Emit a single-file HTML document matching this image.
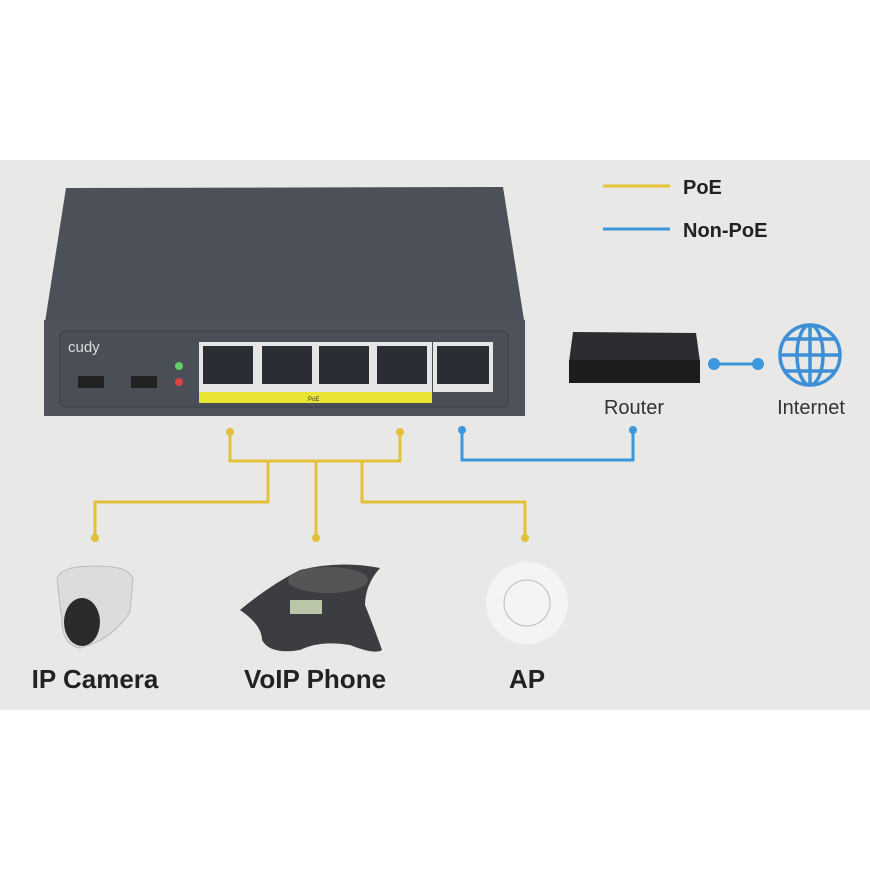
<!DOCTYPE html>
<html><head><style>body{margin:0;background:#fff}svg{display:block}</style></head><body>
<svg width="870" height="870" viewBox="0 0 870 870" xmlns="http://www.w3.org/2000/svg" font-family="Liberation Sans, sans-serif">
<rect width="870" height="870" fill="#fff"/>
<rect x="0" y="160" width="870" height="550" fill="#e8e8e6"/>
<line x1="603" y1="186" x2="670" y2="186" stroke="#e5c33a" stroke-width="3"/>
<text x="683" y="194" font-size="20" font-weight="bold" fill="#222">PoE</text>
<line x1="603" y1="229" x2="670" y2="229" stroke="#3d97dd" stroke-width="3"/>
<text x="683" y="237" font-size="20" font-weight="bold" fill="#222">Non-PoE</text>
<polygon points="66,188 503,187 524,320 45,322" fill="#4b5059"/>
<rect x="44" y="320" width="481" height="96" fill="#4e535b"/>
<rect x="60" y="331" width="448" height="76" rx="6" fill="#4a4f57" stroke="#3a3e45"/>
<text x="68" y="352" font-size="15" fill="#ddd">cudy</text>
<rect x="78" y="376" width="26" height="12" fill="#222"/>
<rect x="131" y="376" width="26" height="12" fill="#222"/>
<circle cx="179" cy="366" r="4" fill="#6c6"/>
<circle cx="179" cy="382" r="4" fill="#d44"/>
<rect x="199" y="342" width="233" height="50" fill="#e6e6e6"/>
<rect x="433" y="342" width="60" height="50" fill="#e6e6e6"/>
<g fill="#2a2d33">
<rect x="203" y="346" width="50" height="38"/><rect x="262" y="346" width="50" height="38"/><rect x="319" y="346" width="50" height="38"/><rect x="377" y="346" width="50" height="38"/><rect x="437" y="346" width="52" height="38"/>
</g>
<rect x="199" y="392" width="233" height="11" fill="#e7e532"/>
<text x="308" y="401" font-size="6" fill="#333">PoE</text>
<g stroke="#e3c03a" stroke-width="3" fill="none">
<polyline points="230,432 230,461 400,461 400,432"/>
<polyline points="268,461 268,502 95,502 95,538"/>
<polyline points="316,461 316,538"/>
<polyline points="362,461 362,502 525,502 525,538"/>
</g>
<g fill="#e3c03a"><circle cx="230" cy="432" r="4"/><circle cx="400" cy="432" r="4"/><circle cx="95" cy="538" r="4"/><circle cx="316" cy="538" r="4"/><circle cx="525" cy="538" r="4"/></g>
<polyline points="462,430 462,460 633,460 633,430" stroke="#3d97dd" stroke-width="3" fill="none"/>
<circle cx="462" cy="430" r="4" fill="#3d97dd"/><circle cx="633" cy="430" r="4" fill="#3d97dd"/>
<line x1="714" y1="364" x2="758" y2="364" stroke="#3d97dd" stroke-width="3"/>
<circle cx="714" cy="364" r="6" fill="#3d97dd"/><circle cx="758" cy="364" r="6" fill="#3d97dd"/>
<polygon points="573,332 696,333 700,362 569,362" fill="#2a2c2f"/>
<rect x="569" y="360" width="131" height="23" fill="#1c1d1f"/>
<text x="634" y="414" font-size="20" text-anchor="middle" fill="#333">Router</text>
<g stroke="#3d8fd6" stroke-width="3.5" fill="none">
<circle cx="810" cy="355" r="30"/><ellipse cx="810" cy="355" rx="13" ry="30"/>
<line x1="810" y1="325" x2="810" y2="385"/><line x1="780" y1="355" x2="840" y2="355"/>
<path d="M785 339 H835 M785 371 H835"/>
</g>
<text x="811" y="414" font-size="20" text-anchor="middle" fill="#333">Internet</text>
<path d="M57 580 Q58 566 95 566 Q132 566 133 580 L130 612 Q112 640 80 648 Q62 645 62 620 Z" fill="#dcdcdc" stroke="#bbb"/>
<ellipse cx="82" cy="622" rx="18" ry="24" fill="#2b2b2e"/>
<path d="M240 610 Q270 585 300 570 Q340 560 380 568 Q365 585 365 605 Q375 630 382 650 Q375 655 350 645 Q320 640 300 650 Q270 655 262 640 Q262 625 240 610 Z" fill="#3c3d40"/>
<ellipse cx="328" cy="580" rx="40" ry="13" fill="#555"/>
<rect x="290" y="600" width="32" height="14" fill="#b9c7a8"/>
<circle cx="527" cy="603" r="41" fill="#f4f4f4"/>
<circle cx="527" cy="603" r="23" fill="none" stroke="#bbb"/>
<text x="95" y="688" font-size="26" font-weight="bold" text-anchor="middle" fill="#222">IP Camera</text>
<text x="315" y="688" font-size="26" font-weight="bold" text-anchor="middle" fill="#222">VoIP Phone</text>
<text x="527" y="688" font-size="26" font-weight="bold" text-anchor="middle" fill="#222">AP</text>
</svg>
</body></html>
